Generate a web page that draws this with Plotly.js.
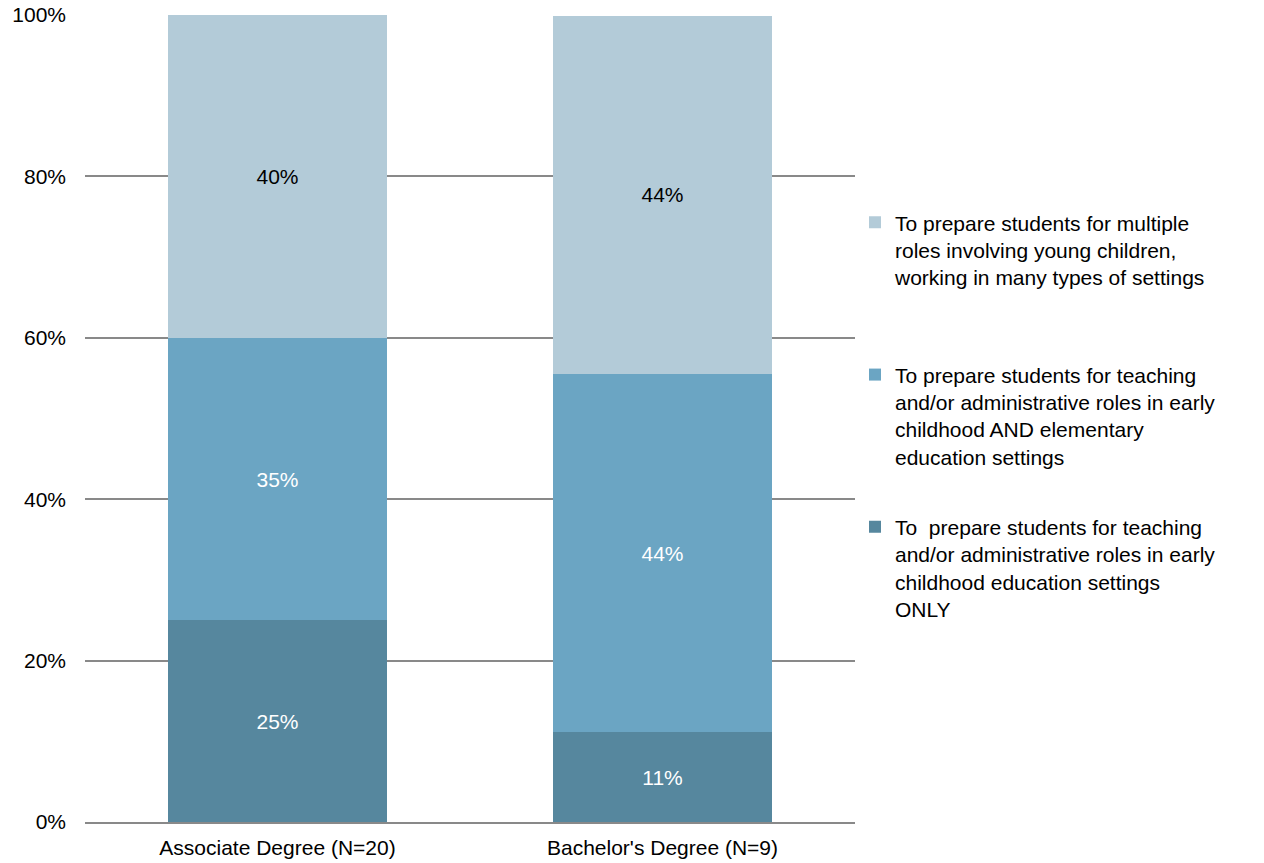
<!DOCTYPE html>
<html>
<head>
<meta charset="utf-8">
<script src="https://cdn.plot.ly/plotly-3.0.1.min.js"></script>
<style>html,body{margin:0;padding:0;background:#fff;}#chart{width:1264px;height:863px;}</style>
</head>
<body>
<div id="chart"></div>
<script>
const categories = ["Associate Degree (N=20)", "Bachelor's Degree (N=9)"];
const seriesNames = [
  "To  prepare students for teaching<br>and/or administrative roles in early<br>childhood education settings<br>ONLY",
  "To prepare students for teaching<br>and/or administrative roles in early<br>childhood AND elementary<br>education settings",
  "To prepare students for multiple<br>roles involving young children,<br>working in many types of settings<br> "
];
const onlyECE = [25, 11.1];
const eceAndElem = [35, 44.4];
const multipleRoles = [40, 44.4];
const labelsOnlyECE = ["25%", "11%"];
const labelsEceAndElem = ["35%", "44%"];
const labelsMultiple = ["40%", "44%"];

const colors = ["#56879E", "#6BA5C3", "#B3CBD8"];
const textColors = ["#ffffff", "#ffffff", "#000000"];
const values = [onlyECE, eceAndElem, multipleRoles];
const labels = [labelsOnlyECE, labelsEceAndElem, labelsMultiple];
const FONT = 'Liberation Sans, Arial, sans-serif';

const traces = values.map((v, i) => ({
  type: 'bar',
  x: categories,
  y: v,
  name: seriesNames[i],
  legendgroup: 'g' + i,
  legendrank: 1000 - i,
  text: labels[i],
  texttemplate: '%{text}',
  textposition: 'inside',
  insidetextanchor: 'middle',
  textangle: 0,
  constraintext: 'none',
  textfont: {family: FONT, size: 21, color: textColors[i]},
  marker: {color: colors[i], line: {width: 0}},
  hoverinfo: 'none'
}));

const layout = {
  width: 1264,
  height: 863,
  barmode: 'stack',
  bargap: 0.43,
  margin: {l: 85, r: 409, t: 15, b: 41},
  paper_bgcolor: '#ffffff',
  plot_bgcolor: '#ffffff',
  font: {family: FONT, size: 21, color: '#000000'},
  showlegend: true,
  legend: {
    x: 1.0, xanchor: 'left',
    y: 0.768, yanchor: 'top',
    traceorder: 'grouped',
    tracegroupgap: 40,
    valign: 'top',
    font: {family: FONT, size: 21, color: '#000000'},
    bgcolor: 'rgba(0,0,0,0)'
  },
  xaxis: {
    type: 'category',
    showgrid: false,
    showline: true,
    linecolor: '#898989',
    linewidth: 2,
    ticks: '',
    tickfont: {family: FONT, size: 21, color: '#000000'},
    ticklabelstandoff: 6
  },
  yaxis: {
    range: [0, 100],
    tickvals: [0, 20, 40, 60, 80, 100],
    ticktext: ['0%', '20%', '40%', '60%', '80%', '100%'],
    showgrid: true,
    gridcolor: '#898989',
    gridwidth: 2,
    zeroline: false,
    showline: false,
    ticks: '',
    tickfont: {family: FONT, size: 21, color: '#000000'},
    ticklabelstandoff: 18
  }
};

Plotly.newPlot('chart', traces, layout, {displayModeBar: false, staticPlot: true});
</script>
</body>
</html>
